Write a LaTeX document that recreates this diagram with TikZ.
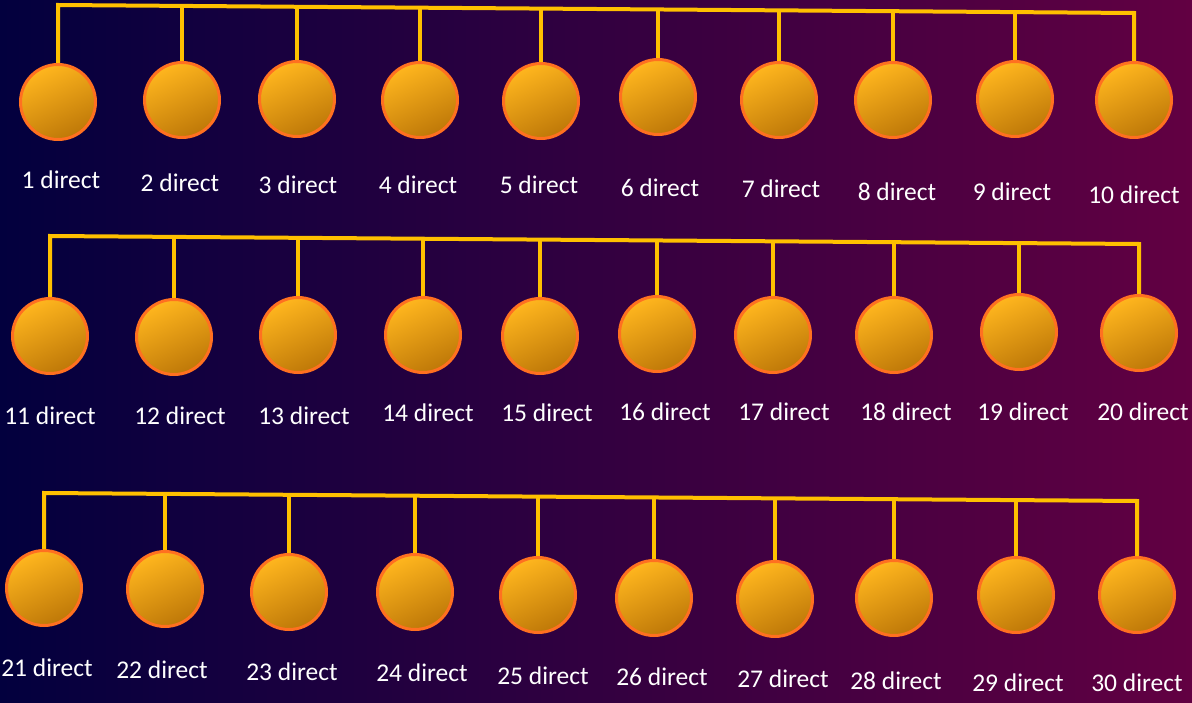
\documentclass[tikz,border=0pt]{standalone}
\usepackage{fontspec}
\setmainfont{Carlito}
\usepackage{tikz}
\usetikzlibrary{calc}
\definecolor{bgleft}{RGB}{2,0,62}
\definecolor{bgmid}{RGB}{35,0,66}
\definecolor{bgright}{RGB}{98,0,66}
\definecolor{wire}{RGB}{255,192,0}
\definecolor{ballrim}{RGB}{255,112,32}
\definecolor{balltop}{RGB}{255,182,30}
\definecolor{ballbot}{RGB}{190,120,8}
\tikzset{
        ball/.style={circle, draw=ballrim, line width=3pt, minimum size=75pt, inner sep=0pt,
                top color=balltop, bottom color=ballbot, shading angle=25},
        wireline/.style={draw=wire, line width=4pt},
        lbl/.style={text=white, inner sep=0pt, font=\fontsize{25.5}{28}\selectfont}
}

\begin{document}
\begin{tikzpicture}[x=1pt, y=-1pt]
        \useasboundingbox (0,0) rectangle (1192,703);
        \shade[left color=bgleft, middle color=bgmid, right color=bgright] (0,0) rectangle (1192,703);
        \foreach \n/\x/\y/\t/\lx/\ly in {
                1/58/102/5/61/180, 2/182/100/8/180/183, 3/297/99/8/298/185, 4/420/100/8/418/185,
                5/541/101/8.6/539/185, 6/658/97/9.5/660/188, 7/779/100/10.4/781/189,
                8/893/100/11.2/897/192, 9/1015/99/12/1012/192, 10/1134/100/13/1134/195,
                11/50/336/236/50/416, 12/174/337/237/180/416, 13/298/335/238/304/416,
                14/423/335/239/428/413, 15/540/336/240/547/413, 16/657/334/240.5/665/412,
                17/773/335/241/784/412, 18/894/335/242/906/412, 19/1019/332/243/1023/412,
                20/1139/333/244/1143/412,
                21/44/588/493/47/668, 22/165/589/494/162/670, 23/289/592/495/292/672,
                24/415/592/496/422/673, 25/538/595/497/543/676, 26/654/598/497.5/662/677,
                27/775/599/498.5/783/679, 28/894/598/499/896/681, 29/1016/595/500/1018/683,
                30/1137/595/501/1137/683} {
                \node[ball] (c\n) at (\x,\y) {};
                \coordinate (t\n) at (\x,\t);
                \node[lbl] (l\n) at (\lx,\ly) {\n{} direct};
        }
        \draw[wireline] (c1.north) -- (t1) -- (t10) -- (c10.north);
        \draw[wireline] (c11.north) -- (t11) -- (t20) -- (c20.north);
        \draw[wireline] (c21.north) -- (t21) -- (t30) -- (c30.north);
        \foreach \n in {2,...,9,12,13,...,19,22,23,...,29} \draw[wireline] (t\n) -- (c\n.north);
\end{tikzpicture}
\end{document}
